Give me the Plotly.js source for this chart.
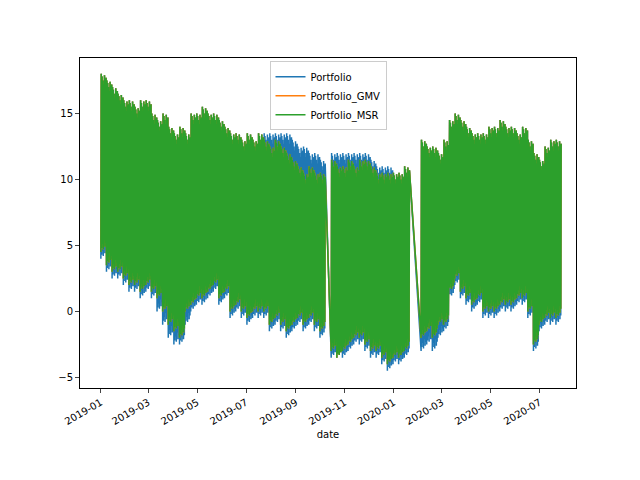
<!DOCTYPE html>
<html>
<head>
<script src="https://cdn.plot.ly/plotly-3.0.1.min.js"></script>
<style>body{margin:0}#chart{width:640px;height:480px}</style>
</head>
<body>
<div id="chart"></div>
<script>
var weeks = ['2019-01-01','2019-01-08','2019-01-15','2019-01-22','2019-01-29','2019-02-05','2019-02-12','2019-02-19','2019-02-26','2019-03-05',
  '2019-03-12','2019-03-19','2019-03-26','2019-04-02','2019-04-09','2019-04-16','2019-04-23','2019-04-30','2019-05-07','2019-05-14',
  '2019-05-21','2019-05-28','2019-06-04','2019-06-11','2019-06-18','2019-06-25','2019-07-02','2019-07-09','2019-07-16','2019-07-23',
  '2019-07-30','2019-08-06','2019-08-13','2019-08-20','2019-08-27','2019-09-03','2019-09-10','2019-09-17','2019-09-24','2019-10-01',
  '2019-10-15','2019-10-22','2019-10-29','2019-11-05','2019-11-12','2019-11-19','2019-11-26','2019-12-03','2019-12-10','2019-12-17','2019-12-24','2019-12-31',
  '2020-01-07','2020-01-14',
  '2020-02-04','2020-02-11','2020-02-18','2020-02-25','2020-03-03','2020-03-10','2020-03-17','2020-03-24','2020-03-31','2020-04-07',
  '2020-04-14','2020-04-21','2020-04-28','2020-05-05','2020-05-12','2020-05-19','2020-05-26','2020-06-02','2020-06-09','2020-06-16',
  '2020-06-23','2020-06-30','2020-07-07','2020-07-14','2020-07-21'];

// weekly highs / lows
var msrHigh = [18,17.5,17,16.5,16,16,15.5,16,16,15, 14.5,15,14,13.5,14,13.5,15,15,15.5,15, 15,14.5,14,13.5,13.5,13,13.5,13,13.5,13,
  12.5,13,12.5,12,11.5,11,10.5,11,10.5,10.5,
  11.5,11,11,11.5,11,11.5,11.5,11,10.5,10.5,10.5,10.5, 10.5,11,
  13,12.5,12.5,12,13,14.5,15,14.5,14,13.5,13.5,13.5,14,14,14.5,14,14,13.5,14,13,12,11.5,12.5,13,13];
var msrLow = [4.5,3.5,3,3,2.5,2,2,1.5,2,1.5, 1,0,-1,-1.5,-2,0,0.5,1,1,1.5, 2,1,1.5,0,0.5,0,-0.5,0,0,0,
  -1,-0.5,-1,-1.5,-1,-0.5,-1,-0.5,-1,-1.5,
  -3,-3.5,-3,-2.5,-2,-2,-2.5,-3,-3,-3.5,-4,-3.5, -3.5,-3,
  -2,-1.5,-2,-1,-1,1.5,2.5,1.5,1,0.5,1,0,0,0,0.5,0.5,0.5,1,1,0,-2.5,-1,-0.5,-0.5,-0.5];
var gmvHigh = msrHigh.slice();
var gmvLow = msrLow.slice();
var portHigh = [18,17.5,17,16.5,16,16,15.5,16,16,15, 14.5,15,14,13.5,14,13.5,15,15,15.5,15, 15,14.5,14,13.5,13.5,13,13.5,13,13.5,13.5,
  13.5,13.5,13.5,13.5,13,12.5,12.5,12,12,11.5,
  12,12,12,12,12,12,12,11.5,11,11,11,10.5, 10.5,11,
  13,12.5,12.5,12,13,14.5,15,14.5,14,13.5,13.5,13.5,14,14,14.5,14,14,13.5,14,13,12,11.5,12.5,13,13];
var portLow = [4,3,2.5,2.5,2,1.5,1.5,1,1.5,1, 0,-1,-2,-2.5,-2.5,-1,0,0.5,0.5,1, 1.5,0.5,1,-0.5,0,-0.5,-1,-0.5,-0.5,-0.5,
  -1.5,-1,-1.5,-2,-1.5,-1,-1.5,-1,-1.5,-2,
  -3.5,-3.5,-3.5,-3,-2.5,-2.5,-3,-3.5,-3.5,-4,-4.5,-4, -4,-3.5,
  -3,-2.5,-3,-2,-1.5,1,2,1,0.5,0,0.5,-0.5,-0.5,-0.5,0,0,0,0.5,0.5,-0.5,-3,-1.5,-1,-1,-1];

// each week swings between its low and high several times (hourly-style data)
var swings = [[0, 0], [0.3, 0.2], [0.6, 0.5], [0.2, 0.8], [0.9, 0.1], [0.4, 0.4], [0.7, 0.3]];

function series(hi, lo) {
  var x = [], y = [];
  for (var i = 0; i < weeks.length; i++) {
    var t0 = new Date(weeks[i] + 'T00:00:00Z').getTime();
    for (var k = 0; k < swings.length; k++) {
      var t = t0 + k * 86400000;
      x.push(new Date(t).toISOString().slice(0, 16).replace('T', ' '));
      y.push(lo[i] + swings[k][0]);
      x.push(new Date(t + 43200000).toISOString().slice(0, 16).replace('T', ' '));
      y.push(hi[i] - swings[k][1]);
    }
  }
  return {x: x, y: y};
}

var p = series(portHigh, portLow), g = series(gmvHigh, gmvLow), m = series(msrHigh, msrLow);
var data = [
  {x: p.x, y: p.y, name: 'Portfolio', type: 'scatter', mode: 'lines', line: {color: '#1f77b4', width: 1.5}},
  {x: g.x, y: g.y, name: 'Portfolio_GMV', type: 'scatter', mode: 'lines', line: {color: '#ff7f0e', width: 1.5}},
  {x: m.x, y: m.y, name: 'Portfolio_MSR', type: 'scatter', mode: 'lines', line: {color: '#2ca02c', width: 1.5}}
];
var tickVals = ['2019-01-01','2019-03-01','2019-05-01','2019-07-01','2019-09-01','2019-11-01','2020-01-01','2020-03-01','2020-05-01','2020-07-01'];
var layout = {
  width: 640, height: 480,
  margin: {l: 80, r: 64, t: 58, b: 92},
  font: {family: 'DejaVu Sans', size: 10, color: '#000'},
  paper_bgcolor: '#fff', plot_bgcolor: '#fff',
  showlegend: true,
  legend: {x: 0.5, xanchor: 'center', y: 0.99, yanchor: 'top', bordercolor: '#ccc', borderwidth: 1, bgcolor: 'rgba(255,255,255,0.8)', font: {size: 10}},
  xaxis: {
    type: 'date', range: ['2018-12-06', '2020-08-15'],
    tickvals: tickVals, tickformat: '%Y-%m', tickangle: -30,
    showgrid: false, zeroline: false, showline: true, mirror: true, linecolor: '#000',
    ticks: 'outside', ticklen: 4, title: {text: 'date', font: {size: 10}}
  },
  yaxis: {
    range: [-5.8, 19.2], tickvals: [-5, 0, 5, 10, 15],
    showgrid: false, zeroline: false, showline: true, mirror: true, linecolor: '#000',
    ticks: 'outside', ticklen: 4
  }
};
Plotly.newPlot('chart', data, layout, {displayModeBar: false});
</script>
</body>
</html>
